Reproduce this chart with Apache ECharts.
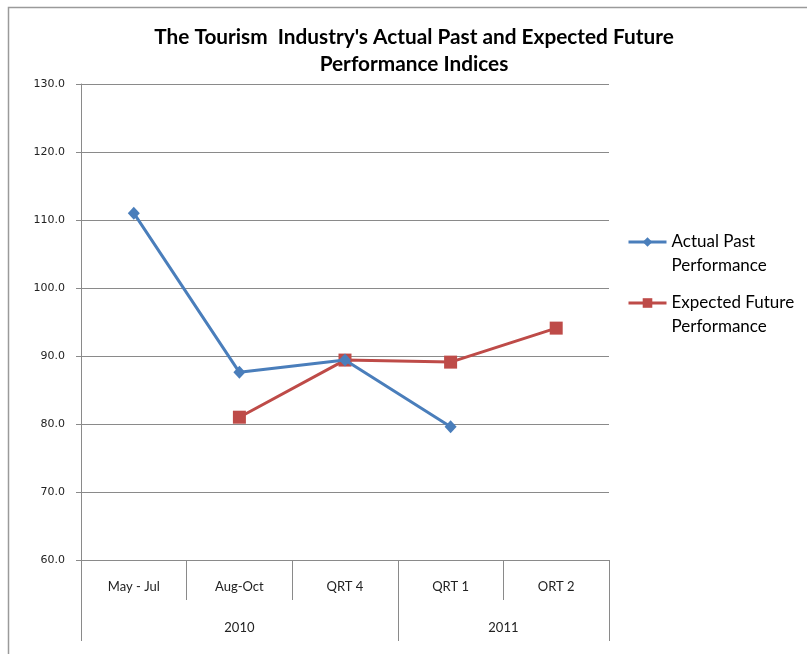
<!DOCTYPE html>
<html>
<head>
<meta charset="utf-8">
<title>Tourism Performance Indices</title>
<script src="https://cdn.jsdelivr.net/npm/echarts@6/dist/echarts.min.js"></script>
<style>
  html, body { margin: 0; padding: 0; background: #fff; }
  #chart { width: 807px; height: 654px; }
</style>
</head>
<body>
<div id="chart"></div>
<script>
// Periods along the bottom axis and the year groups they fall in
const periods = ['May - Jul', 'Aug-Oct', 'QRT 4', 'QRT 1', 'ORT 2'];
const years = ['2010', '2011'];
const yearSpans = [3, 2];           // number of periods in each year

// Index values (null = no reading for that period)
const actualPast = [111.0, 87.6, 89.4, 79.6, null];
const expectedFuture = [null, 81.0, 89.4, 89.1, 94.1];

const seriesNames = ['Actual Past\nPerformance', 'Expected Future\nPerformance'];

// Value-axis range and step
const yMin = 60, yMax = 130, yStep = 10;

// Year group boundaries and centres, in period units
const yearBounds = [0];
yearSpans.forEach(s => yearBounds.push(yearBounds[yearBounds.length - 1] + s));
const yearCenters = yearSpans.map((s, i) => yearBounds[i] + s / 2);

const FONT = 'Lato, "Open Sans", sans-serif';
const AXIS_GREY = '#8a8a8a';
const BLUE = '#4A7EBB';
const RED = '#BE4B48';
const LH = 24;

const chart = echarts.init(document.getElementById('chart'));

// Each legend entry is a two-line label whose first line sits level with the icon;
// a blank leading line keeps that first line on the icon's centre.
const legendBase = {
  orient: 'vertical',
  left: 627,
  padding: 0,
  itemWidth: 38,
  itemHeight: 12,
  formatter: name => '\n' + name,
  lineStyle: { width: 3 },
  textStyle: { fontFamily: FONT, fontSize: 17, color: '#000', lineHeight: LH },
  selectedMode: false
};

chart.setOption({
  backgroundColor: '#fff',
  animation: false,
  title: {
    text: "The Tourism  Industry's Actual Past and Expected Future\nPerformance Indices",
    left: 409,
    top: 19,
    textAlign: 'center',
    textStyle: {
      fontFamily: FONT, fontSize: 20.8, fontWeight: 'bold', color: '#000', lineHeight: 27
    }
  },
  legend: [
    Object.assign({}, legendBase, { top: 206, data: [seriesNames[0]] }),
    Object.assign({}, legendBase, { top: 267, data: [seriesNames[1]] })
  ],
  grid: { left: 81, right: 198, top: 84, bottom: 94, containLabel: false },
  xAxis: [
    {
      type: 'category',
      data: periods,
      boundaryGap: true,
      axisLine: { show: true, lineStyle: { color: AXIS_GREY, width: 1 } },
      axisTick: { show: true, interval: 0, length: 40, lineStyle: { color: AXIS_GREY } },
      axisLabel: { interval: 0, margin: 20, fontFamily: FONT, fontSize: 13, color: '#222' },
      splitLine: { show: false }
    },
    {
      type: 'value',
      position: 'bottom',
      offset: 40,
      min: 0,
      max: periods.length,
      axisLine: { show: false },
      axisTick: { show: true, customValues: yearBounds, length: 41, lineStyle: { color: AXIS_GREY } },
      axisLabel: {
        customValues: yearCenters,
        margin: 21,
        fontFamily: FONT, fontSize: 13, color: '#222',
        formatter: v => years[yearCenters.indexOf(v)] || ''
      },
      splitLine: { show: false }
    }
  ],
  yAxis: {
    type: 'value',
    min: yMin,
    max: yMax,
    interval: yStep,
    axisLine: { show: true, lineStyle: { color: AXIS_GREY } },
    axisTick: { show: true, length: 5, lineStyle: { color: AXIS_GREY } },
    axisLabel: {
      margin: 16, fontFamily: '"DejaVu Sans", sans-serif', fontSize: 11, color: '#222',
      formatter: v => v.toFixed(1)
    },
    splitLine: { show: true, lineStyle: { color: AXIS_GREY, width: 1 } }
  },
  series: [
    {
      name: seriesNames[0],
      type: 'line',
      data: actualPast,
      connectNulls: false,
      symbol: 'diamond',
      symbolSize: [12, 13],
      lineStyle: { color: BLUE, width: 3 },
      itemStyle: { color: BLUE },
      z: 3
    },
    {
      name: seriesNames[1],
      type: 'line',
      data: expectedFuture,
      connectNulls: false,
      symbol: 'rect',
      symbolSize: 13,
      lineStyle: { color: RED, width: 3 },
      itemStyle: { color: RED },
      z: 2
    }
  ],
  graphic: [
    {
      type: 'polyline',
      silent: true,
      shape: { points: [[8.5, 660], [8.5, 7.5], [810, 7.5]] },
      style: { stroke: '#9a9a9a', fill: null, lineWidth: 1.5 }
    }
  ]
});
</script>
</body>
</html>
